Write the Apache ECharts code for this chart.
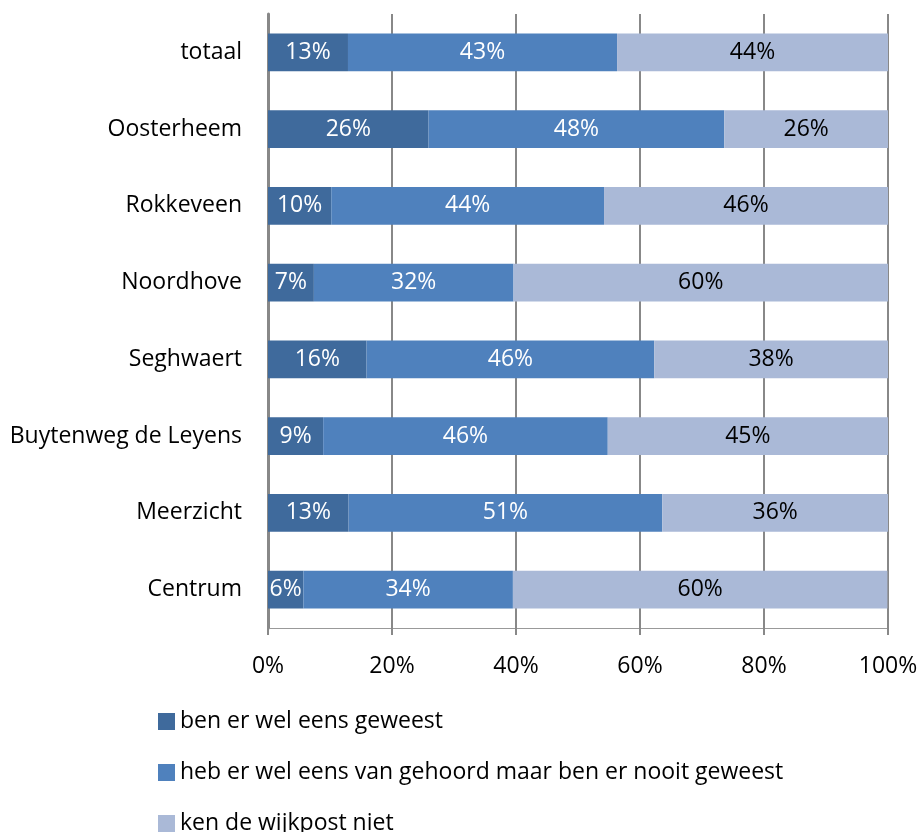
<!DOCTYPE html>
<html>
<head>
<meta charset="utf-8">
<script src="https://cdn.jsdelivr.net/npm/echarts@6/dist/echarts.min.js"></script>
<style>html,body{margin:0;padding:0;background:#fff}#c{width:922px;height:832px}</style>
</head>
<body>
<div id="c"></div>
<script>
const categories = ['totaal','Oosterheem','Rokkeveen','Noordhove','Seghwaert','Buytenweg de Leyens','Meerzicht','Centrum'];
const seriesNames = ['ben er wel eens geweest','heb er wel eens van gehoord maar ben er nooit geweest','ken de wijkpost niet'];
const beenThere = [12.9, 25.9, 10.2, 7.4, 15.9, 8.9, 13.0, 5.7];
const heardOf = [43.4, 47.7, 44.0, 32.2, 46.4, 45.9, 50.6, 33.8];
const unknown = [43.7, 26.4, 45.8, 60.4, 37.7, 45.2, 36.4, 60.4];
const xTicks = [0, 20, 40, 60, 80, 100];
const colors = ['#3F6A9C', '#4F81BD', '#AAB9D7'];
const labelColors = ['#ffffff', '#ffffff', '#000000'];
const FONT = '"Open Sans", "Noto Sans", sans-serif';
const FS = 23;

const chart = echarts.init(document.getElementById('c'));
const data = [beenThere, heardOf, unknown];
const legendCenters = [720, 771, 822];
chart.setOption({
  animation: false,
  textStyle: {fontFamily: FONT},
  grid: {left: 268, right: 34, top: 14, bottom: 204, containLabel: false},
  xAxis: {
    type: 'value', min: xTicks[0], max: xTicks[xTicks.length-1], interval: 20,
    axisLabel: {formatter: v => v + '%', fontSize: FS, color: '#000', margin: 27, fontFamily: FONT},
    axisLine: {show: true, lineStyle: {color: '#999', width: 1}},
    axisTick: {show: true, length: 7, lineStyle: {color: '#888', width: 2}},
    splitLine: {show: true, lineStyle: {color: '#888', width: 2}}
  },
  yAxis: {
    type: 'category', data: categories, inverse: true,
    axisLabel: {fontSize: FS, color: '#000', margin: 26, fontFamily: FONT},
    axisLine: {show: true, lineStyle: {color: '#888', width: 3}},
    axisTick: {show: false}
  },
  legend: seriesNames.map((n, i) => ({
    orient: 'vertical', left: 153, top: legendCenters[i] - 15,
    itemWidth: 17, itemHeight: 17, icon: 'rect', itemGap: 0,
    textStyle: {fontSize: FS, color: '#000', fontFamily: FONT},
    data: [n]
  })),
  series: seriesNames.map((n, i) => ({
    name: n, type: 'bar', stack: 'total', barWidth: '49%',
    data: data[i],
    itemStyle: {color: colors[i]},
    label: {show: true, position: 'inside', fontSize: FS, color: labelColors[i], fontFamily: FONT,
      formatter: p => Math.round(p.value) + '%'}
  }))
});
</script>
</body>
</html>
